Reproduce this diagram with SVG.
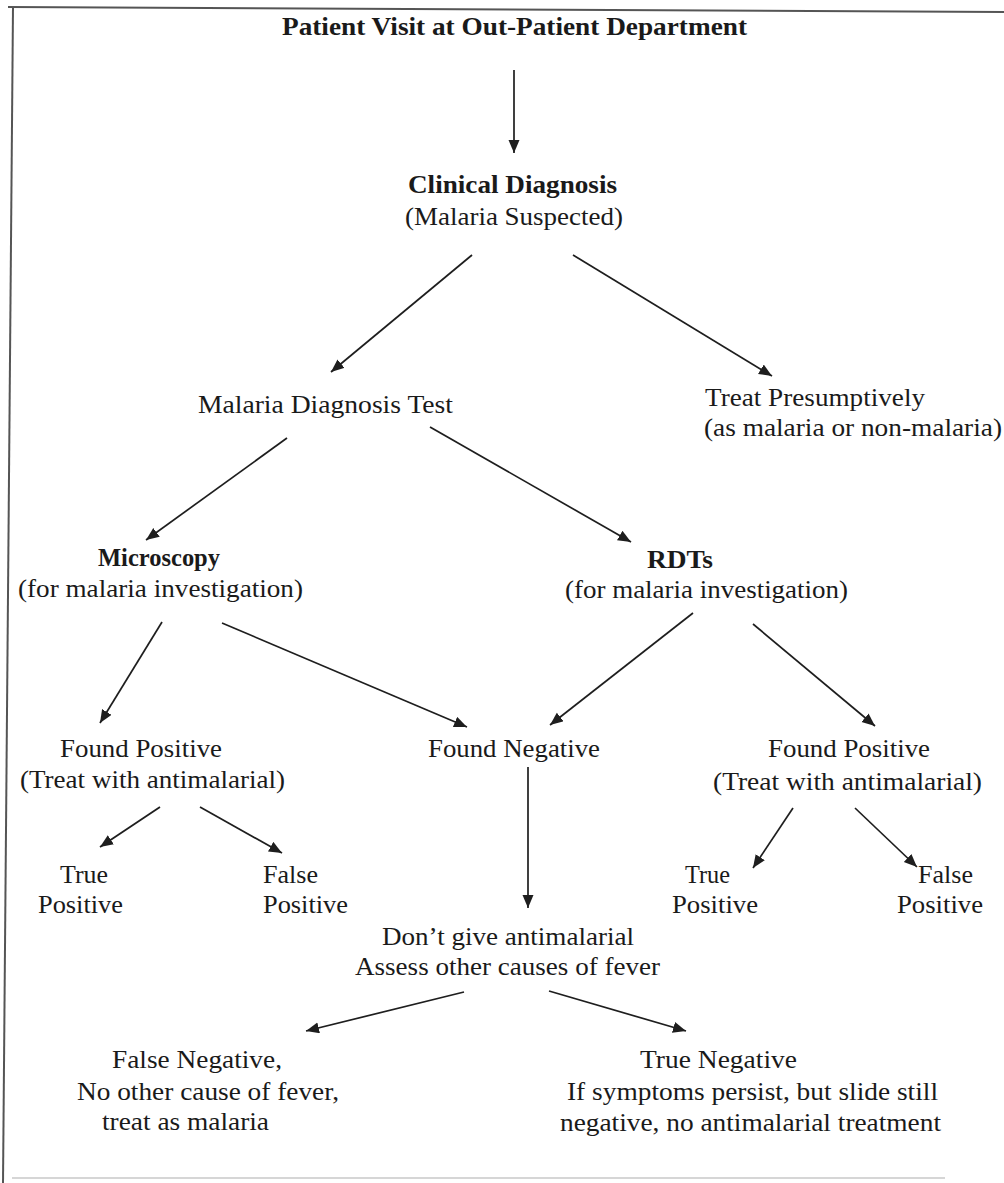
<svg xmlns="http://www.w3.org/2000/svg" width="1004" height="1183" viewBox="0 0 1004 1183">
<style>
  text { font-family: "Liberation Serif", "Times New Roman", serif; font-size: 26px; fill: #1a1a1a; }
  .b { font-weight: bold; }
  .conn line { stroke: #1e1e1e; stroke-width: 1.7; marker-end: url(#ah); }
  .frame { stroke: #555; stroke-width: 2; fill: none; }
</style>
<defs>
  <marker id="ah" markerUnits="userSpaceOnUse" markerWidth="14" markerHeight="12" refX="13" refY="5.5" orient="auto">
    <path d="M0,0 L13,5.5 L0,11 z" fill="#1e1e1e"/>
  </marker>
</defs>
<rect width="1004" height="1183" fill="#ffffff"/>
<g id="frame">
  <line class="frame" x1="8" y1="7" x2="1004" y2="12"/>
  <line class="frame" x1="13" y1="7" x2="3" y2="1183" stroke="#888"/>
  <line x1="12" y1="1178" x2="945" y2="1178" stroke="#d6d6d6" stroke-width="2"/>
</g>

<g id="connectors" class="conn">
  <line x1="514" y1="70" x2="514" y2="153"/>
  <line x1="472" y1="255" x2="331" y2="372"/>
  <line x1="573" y1="255" x2="772" y2="376"/>
  <line x1="287" y1="438" x2="146" y2="540"/>
  <line x1="430" y1="427" x2="631" y2="542"/>
  <line x1="162" y1="622" x2="100" y2="723"/>
  <line x1="222" y1="623" x2="467" y2="727"/>
  <line x1="693" y1="613" x2="550" y2="725"/>
  <line x1="753" y1="624" x2="875" y2="726"/>
  <line x1="160" y1="807" x2="100" y2="847"/>
  <line x1="200" y1="807" x2="282" y2="853"/>
  <line x1="528" y1="767" x2="528" y2="908"/>
  <line x1="793" y1="808" x2="753" y2="868"/>
  <line x1="855" y1="808" x2="917" y2="867"/>
  <line x1="464" y1="992" x2="306" y2="1031"/>
  <line x1="549" y1="991" x2="686" y2="1031"/>
</g>

<g id="patient-visit"><text class="b" x="282" y="35" textLength="465" lengthAdjust="spacingAndGlyphs">Patient Visit at Out-Patient Department</text></g>
<g id="clinical-diagnosis">
  <text class="b" x="408" y="193" textLength="209" lengthAdjust="spacingAndGlyphs">Clinical Diagnosis</text>
  <text x="405" y="225" textLength="218" lengthAdjust="spacingAndGlyphs">(Malaria Suspected)</text>
</g>
<g id="malaria-diagnosis-test"><text x="198" y="413" textLength="255" lengthAdjust="spacingAndGlyphs">Malaria Diagnosis Test</text></g>
<g id="treat-presumptively">
  <text x="705" y="406" textLength="220" lengthAdjust="spacingAndGlyphs">Treat Presumptively</text>
  <text x="704" y="436" textLength="298" lengthAdjust="spacingAndGlyphs">(as malaria or non-malaria)</text>
</g>
<g id="microscopy">
  <text class="b" x="98" y="566" textLength="122" lengthAdjust="spacingAndGlyphs">Microscopy</text>
  <text x="18" y="597" textLength="285" lengthAdjust="spacingAndGlyphs">(for malaria investigation)</text>
</g>
<g id="rdts">
  <text class="b" x="647" y="568" textLength="66" lengthAdjust="spacingAndGlyphs">RDTs</text>
  <text x="565" y="598" textLength="283" lengthAdjust="spacingAndGlyphs">(for malaria investigation)</text>
</g>
<g id="found-positive-micro">
  <text x="60" y="757" textLength="162" lengthAdjust="spacingAndGlyphs">Found Positive</text>
  <text x="20" y="788" textLength="265" lengthAdjust="spacingAndGlyphs">(Treat with antimalarial)</text>
</g>
<g id="found-negative"><text x="428" y="757" textLength="172" lengthAdjust="spacingAndGlyphs">Found Negative</text></g>
<g id="found-positive-rdt">
  <text x="768" y="757" textLength="162" lengthAdjust="spacingAndGlyphs">Found Positive</text>
  <text x="713" y="790" textLength="269" lengthAdjust="spacingAndGlyphs">(Treat with antimalarial)</text>
</g>
<g id="true-positive-micro">
  <text x="60" y="883" textLength="48" lengthAdjust="spacingAndGlyphs">True</text>
  <text x="38" y="913" textLength="85" lengthAdjust="spacingAndGlyphs">Positive</text>
</g>
<g id="false-positive-micro">
  <text x="263" y="883" textLength="55" lengthAdjust="spacingAndGlyphs">False</text>
  <text x="263" y="913" textLength="85" lengthAdjust="spacingAndGlyphs">Positive</text>
</g>
<g id="true-positive-rdt">
  <text x="685" y="883" textLength="45" lengthAdjust="spacingAndGlyphs">True</text>
  <text x="672" y="913" textLength="86" lengthAdjust="spacingAndGlyphs">Positive</text>
</g>
<g id="false-positive-rdt">
  <text x="918" y="883" textLength="55" lengthAdjust="spacingAndGlyphs">False</text>
  <text x="897" y="913" textLength="86" lengthAdjust="spacingAndGlyphs">Positive</text>
</g>
<g id="dont-give">
  <text x="382" y="945" textLength="252" lengthAdjust="spacingAndGlyphs">Don’t give antimalarial</text>
  <text x="355" y="975" textLength="305" lengthAdjust="spacingAndGlyphs">Assess other causes of fever</text>
</g>
<g id="false-negative">
  <text x="112" y="1068" textLength="170" lengthAdjust="spacingAndGlyphs">False Negative,</text>
  <text x="77" y="1100" textLength="262" lengthAdjust="spacingAndGlyphs">No other cause of fever,</text>
  <text x="102" y="1130" textLength="167" lengthAdjust="spacingAndGlyphs">treat as malaria</text>
</g>
<g id="true-negative">
  <text x="640" y="1068" textLength="157" lengthAdjust="spacingAndGlyphs">True Negative</text>
  <text x="567" y="1100" textLength="371" lengthAdjust="spacingAndGlyphs">If symptoms persist, but slide still</text>
  <text x="560" y="1131" textLength="381" lengthAdjust="spacingAndGlyphs">negative, no antimalarial treatment</text>
</g>
</svg>
